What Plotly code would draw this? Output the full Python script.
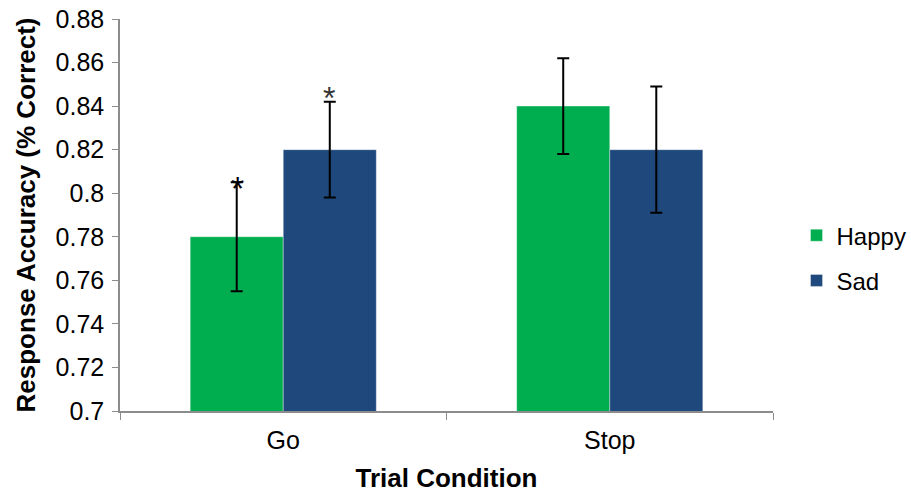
import plotly.graph_objects as go

categories = ["Go", "Stop"]
happy = [0.78, 0.84]
sad = [0.82, 0.82]
happy_err = [0.025, 0.022]
sad_err = [0.022, 0.029]
tick_vals = [0.7, 0.72, 0.74, 0.76, 0.78, 0.8, 0.82, 0.84, 0.86, 0.88]
tick_text = ["0.7", "0.72", "0.74", "0.76", "0.78", "0.8", "0.82", "0.84", "0.86", "0.88"]
signif_happy = [True, False]
signif_sad = [True, False]

FONT = "Liberation Sans, Arial, sans-serif"
GREEN = "#00AE4F"
BLUE = "#1F497C"

fig = go.Figure()
fig.add_trace(go.Bar(
    x=categories, y=happy, name="Happy", legendgroup="a",
    marker=dict(color=GREEN, line=dict(color="rgba(255,255,255,0.35)", width=1)),
    error_y=dict(type="data", array=happy_err, color="black", thickness=2, width=6),
))
fig.add_trace(go.Bar(
    x=categories, y=sad, name="Sad", legendgroup="b",
    marker=dict(color=BLUE, line=dict(color="rgba(255,255,255,0.35)", width=1)),
    error_y=dict(type="data", array=sad_err, color="black", thickness=2, width=6),
))

annotations = []
for i, c in enumerate(categories):
    if signif_happy[i]:
        annotations.append(dict(x=c, y=happy[i] + happy_err[i], xref="x", yref="y",
                                text="*", showarrow=False, xshift=-46, yanchor="bottom",
                                yshift=-27, font=dict(family=FONT, size=34, color="black")))
    if signif_sad[i]:
        annotations.append(dict(x=c, y=sad[i] + sad_err[i], xref="x", yref="y",
                                text="*", showarrow=False, xshift=46, yanchor="bottom",
                                yshift=-16, font=dict(family=FONT, size=32, color="#333333")))

fig.update_layout(
    width=911, height=493,
    margin=dict(l=120, r=138, t=19, b=82, autoexpand=False),
    paper_bgcolor="white", plot_bgcolor="white",
    barmode="group", bargap=0.43, bargroupgap=0,
    font=dict(family=FONT, size=25, color="black"),
    annotations=annotations,
    legend=dict(x=1.036, y=0.39, xanchor="left", yanchor="middle",
                font=dict(family=FONT, size=24), tracegroupgap=11,
                traceorder="grouped", itemwidth=30),
    showlegend=True,
)
fig.update_xaxes(
    type="category", showline=True, linecolor="#8C8C8C", linewidth=1.5,
    ticks="outside", ticklen=7, tickcolor="#8C8C8C", tickson="boundaries",
    showgrid=False, ticklabelstandoff=6,
    tickfont=dict(family=FONT, size=25),
    title=dict(text="<b>Trial Condition</b>", font=dict(family=FONT, size=26), standoff=20),
)
fig.update_yaxes(
    range=[0.7, 0.88], tickvals=tick_vals, ticktext=tick_text,
    showline=True, linecolor="#8C8C8C", linewidth=1.5,
    ticks="outside", ticklen=6, tickcolor="#8C8C8C", showgrid=False, zeroline=False,
    ticklabelstandoff=3,
    tickfont=dict(family=FONT, size=25),
    title=dict(text="<b>Response Accuracy (% Correct)</b>", font=dict(family=FONT, size=26), standoff=12),
)

fig.write_html("out.html", config={"displayModeBar": False},
               post_script="document.body.style.margin='0';")
